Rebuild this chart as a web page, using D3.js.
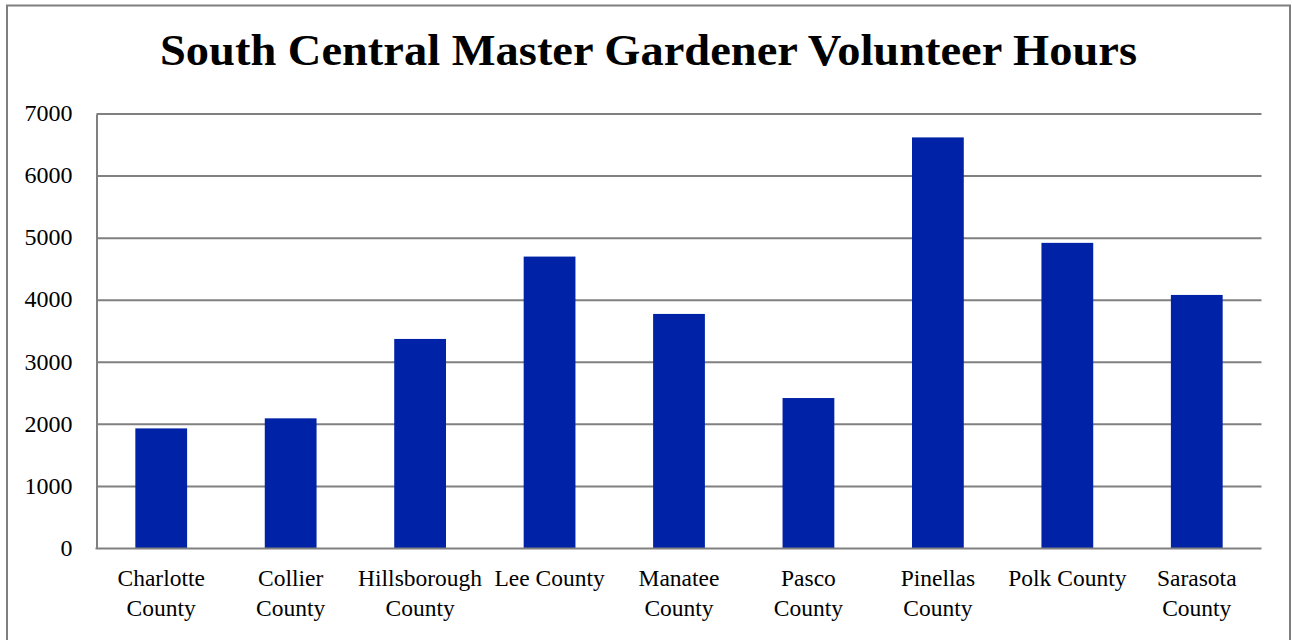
<!DOCTYPE html>
<html>
<head>
<meta charset="utf-8">
<script src="https://cdn.jsdelivr.net/npm/d3@7"></script>
<style>
  html, body { margin: 0; padding: 0; background: #fff; }
  svg { display: block; }
</style>
</head>
<body>
<svg id="chart" width="1292" height="640"></svg>
<script>
const title = "South Central Master Gardener Volunteer Hours";
const categories = ["Charlotte County", "Collier County", "Hillsborough County", "Lee County",
  "Manatee County", "Pasco County", "Pinellas County", "Polk County", "Sarasota County"];
const hours = [1935, 2097, 3376, 4703, 3779, 2424, 6623, 4924, 4085];
const yTicks = [0, 1000, 2000, 3000, 4000, 5000, 6000, 7000];

const W = 1292, H = 640;
const margin = { left: 96.5, right: 1292 - 1261.5, top: 114, bottom: 640 - 548.5 };
const svg = d3.select("#chart");
const serif = "'Liberation Serif', 'Times New Roman', serif";

// outer frame
svg.append("rect")
  .attr("x", 7).attr("y", 5.5).attr("width", 1283).attr("height", 640)
  .attr("fill", "#fff").attr("stroke", "#7f7f7f").attr("stroke-width", 2);

const x = d3.scaleBand().domain(categories)
  .range([margin.left, W - margin.right]).paddingInner(0.6).paddingOuter(0.3);
const y = d3.scaleLinear().domain([0, 7000]).range([H - margin.bottom, margin.top]);

// gridlines
svg.append("g").selectAll("line").data(yTicks.filter(d => d > 0)).join("line")
  .attr("x1", margin.left).attr("x2", W - margin.right)
  .attr("y1", d => y(d)).attr("y2", d => y(d))
  .attr("stroke", "#808080").attr("stroke-width", 2);

// bars
svg.append("g").selectAll("rect").data(categories).join("rect")
  .attr("x", d => x(d)).attr("width", x.bandwidth())
  .attr("y", (d, i) => y(hours[i]))
  .attr("height", (d, i) => y(0) - y(hours[i]))
  .attr("fill", "#0022a7");

// y axis
const yAxis = d3.axisLeft(y).tickValues(yTicks).tickSize(0).tickPadding(24)
  .tickFormat(d3.format("d"));
const ga = svg.append("g").attr("transform", `translate(${margin.left},0)`).call(yAxis);
ga.select(".domain").attr("stroke", "#808080").attr("stroke-width", 2);
ga.selectAll("text").attr("font-family", serif).attr("font-size", 24).attr("fill", "#000")
  .attr("dy", "0.28em");

// x axis line
svg.append("line")
  .attr("x1", margin.left - 1).attr("x2", W - margin.right)
  .attr("y1", y(0)).attr("y2", y(0))
  .attr("stroke", "#808080").attr("stroke-width", 2);

// category labels (wrapped)
const lab = svg.append("g").selectAll("text").data(categories).join("text")
  .attr("x", d => x(d) + x.bandwidth() / 2)
  .attr("y", 586)
  .attr("text-anchor", "middle")
  .attr("font-family", serif).attr("font-size", 23.5).attr("fill", "#000");
lab.each(function(d) {
  const t = d3.select(this);
  t.text(d);
  const w = this.getComputedTextLength();
  if (w > 125) {
    t.text(null);
    const words = d.split(" ");
    const last = words.pop();
    t.append("tspan").attr("x", x(d) + x.bandwidth() / 2).attr("dy", 0).text(words.join(" "));
    t.append("tspan").attr("x", x(d) + x.bandwidth() / 2).attr("dy", 30).text(last);
  }
});

// title
svg.append("text")
  .attr("x", 648.5).attr("y", 65)
  .attr("text-anchor", "middle")
  .attr("font-family", serif).attr("font-weight", "bold").attr("font-size", 44)
  .attr("textLength", 977).attr("lengthAdjust", "spacingAndGlyphs")
  .attr("fill", "#000")
  .text(title);
</script>
</body>
</html>
